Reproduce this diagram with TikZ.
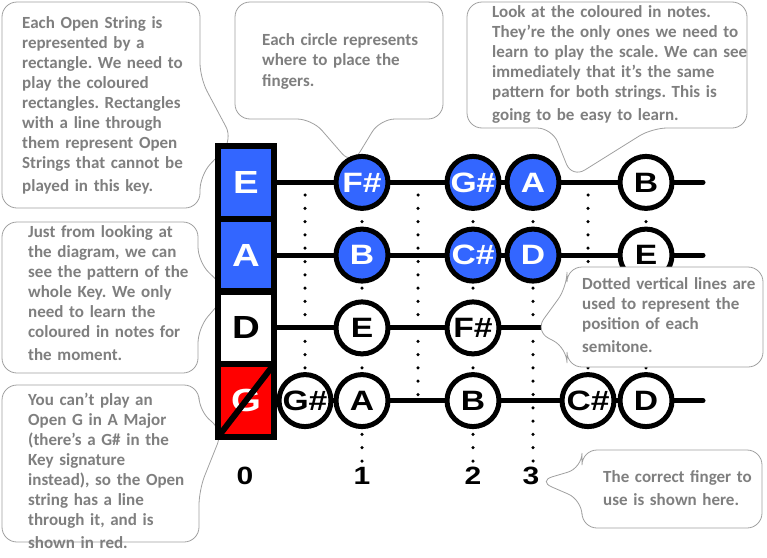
\documentclass[tikz,border=0pt]{standalone}
\usepackage{fontspec}
\setmainfont{Carlito}
\newfontfamily\notefont{Liberation Sans}[FakeStretch=1.2]
\usepackage{tikz}
\usetikzlibrary{positioning,calc}
\definecolor{noteblue}{RGB}{51,102,255}
\definecolor{bubbletext}{RGB}{127,127,127}
\definecolor{bubbleline}{RGB}{160,160,160}
\frenchspacing

\begin{document}
\begin{tikzpicture}[x=1pt,y=-1pt]
        \tikzstyle{bubble}=[draw=bubbleline, fill=white, line width=0.8pt, rounded corners=15pt]
        \tikzstyle{bubbletxt}=[anchor=base west, inner sep=0pt, align=left, text width=270pt, text=bubbletext, font=\fontsize{17}{20}\selectfont\bfseries]
        \tikzstyle{openstr}=[rectangle, draw, line width=6pt, outer sep=0pt, minimum width=56pt, minimum height=72.75pt, inner sep=0pt, font=\notefont\bfseries\fontsize{32}{32}\selectfont]
        \tikzstyle{vstring}=[line width=5pt, line cap=round]
        \tikzstyle{fretdots}=[line width=3.5pt, line cap=round, dash pattern=on 0pt off 13.3pt]
        \tikzstyle{note}=[circle, draw, line width=5pt, fill=white, minimum size=52pt, inner sep=0pt, font=\notefont\bfseries\fontsize{28}{28}\selectfont]
        \tikzstyle{played}=[note, fill=noteblue, text=white]
        \tikzstyle{finger}=[inner sep=0pt, font=\notefont\bfseries\fontsize{25}{25}\selectfont]

        \useasboundingbox (0,0) rectangle (767,557);

        \draw[bubble] (100,2) -- (200,2) -- (200,78) -- (233,140) -- (200,175) -- (200,208) -- (2,208) -- (2,2) -- cycle;
        \node[bubbletxt] (t1) at (22,28) {Each Open String is\\represented by a\\rectangle. We need to\\play the coloured\\rectangles. Rectangles\\with a line through\\them represent Open\\Strings that cannot be\\[3pt]played in this key.};

        \draw[bubble] (340,2) -- (443,2) -- (443,119) -- (380,119) -- (352,165) -- (312,119) -- (235,119) -- (235,2) -- cycle;
        \node[bubbletxt] (t2) at (262,45) {Each circle represents\\where to place the\\[1pt]fingers.};

        \draw[bubble] (600,2) -- (747,2) -- (747,128) -- (652,128) -- (572,178) -- (552,128) -- (467,128) -- (467,2) -- cycle;
        \node[bubbletxt] (t3) at (492,17) {Look at the coloured in notes.\\They’re the only ones we need to\\learn to play the scale. We can see\\immediately that it’s the same\\pattern for both strings. This is\\[3pt]going to be easy to learn.};

        \draw[bubble] (100,222) -- (198,222) -- (198,262) -- (229,292) -- (198,328) -- (198,373) -- (2,373) -- (2,222) -- cycle;
        \node[bubbletxt] (t4) at (28,237) {Just from looking at\\the diagram, we can\\see the pattern of the\\whole Key. We only\\need to learn the\\coloured in notes for\\[3pt]the moment.};

        \draw[bubble] (100,385) -- (199,385) -- (199,412) -- (223,430) -- (199,490) -- (199,542) -- (2,542) -- (2,385) -- cycle;
        \node[bubbletxt] (t5) at (28,405) {You can’t play an\\Open G in A Major\\(there’s a G\# in the\\Key signature\\instead), so the Open\\string has a line\\through it, and is\\[3pt]shown in red.};

        \draw[bubble] (670,450) -- (762,450) -- (762,528) -- (582,528) -- (582,500) -- (538,481) -- (582,468) -- (582,450) -- cycle;
        \node[bubbletxt] (t7) at (603,482) {The correct finger to\\[3pt]use is shown here.};

        \foreach \x in {305,418,588,646}
            \draw[fretdots] (\x,195) -- (\x,400);
        \foreach \x in {362,473,533}
            \draw[fretdots] (\x,195) -- (\x,462);

        \node[openstr, fill=noteblue, text=white] (oE) at (246,182.4) {E};
        \node[openstr, fill=noteblue, text=white] (oA) at (246,255.1) {A};
        \node[openstr, fill=white] (oD) at (246,327.9) {D};
        \node[openstr, fill=red, text=white] (oG) at (246,400.6) {G};
        \draw[line width=6pt] (oG.south west) -- (oG.north east);

        \foreach \s/\y in {E/182.4,A/255.1,D/327.9,G/400.6}{
            \coordinate (e\s) at (703,\y);
            \draw[vstring] (o\s.east) -- (e\s);
        }

        \node[played] (eFs) at (362,182.4) {F\#};
        \node[played] (eGs) at (473,182.4) {G\#};
        \node[played] (eA) at (533,182.4) {A};
        \node[note] (eB) at (646,182.4) {B};

        \node[played] (aB) at (362,255.1) {B};
        \node[played] (aCs) at (473,255.1) {C\#};
        \node[played] (aD) at (533,255.1) {D};
        \node[note] (aE) at (646,255.1) {E};

        \node[note] (dE) at (362,327.9) {E};
        \node[note] (dFs) at (473,327.9) {F\#};
        \node[note] (dGs) at (588,327.9) {};

        \node[note] (gGs) at (305,400.6) {G\#};
        \node[note] (gA) at (362,400.6) {A};
        \node[note] (gB) at (473,400.6) {B};
        \node[note] (gCs) at (588,400.6) {C\#};
        \node[note] (gD) at (646,400.6) {D};

        \draw[bubble] (660,267) -- (763,267) -- (763,367) -- (567,367) -- (567,348) -- (535,331) -- (567,287) -- (567,267) -- cycle;
        \node[bubbletxt] (t6) at (582,289) {Dotted vertical lines are\\used to represent the\\position of each\\[3pt]semitone.};

        \node[finger] (f0) at (245,476) {0};
        \node[finger] (f1) at (362,476) {1};
        \node[finger] (f2) at (473,476) {2};
        \node[finger] (f3) at (531,476) {3};
    \end{tikzpicture}
\end{document}
